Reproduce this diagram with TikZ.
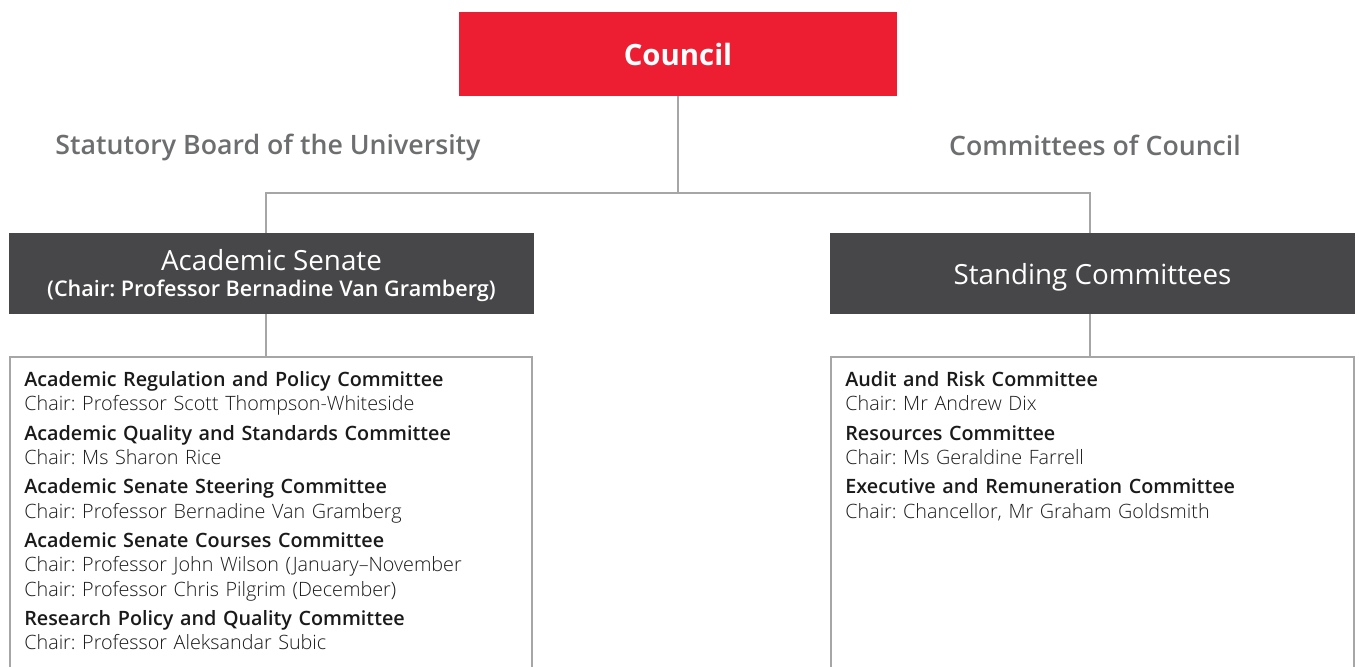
\documentclass[tikz,border=0pt]{standalone}
\usepackage{fontspec}
\setmainfont{Open Sans}
\setsansfont{Open Sans}
\frenchspacing
\IfFontExistsTF{Open Sans Light}{\newfontfamily\chairfont{Open Sans Light}}{\newcommand{\chairfont}{\normalfont}}
\IfFontExistsTF{Open Sans SemiBold}{\newfontfamily\headfont{Open Sans SemiBold}}{%
  \IfFontExistsTF{Open Sans Semibold}{\newfontfamily\headfont{Open Sans Semibold}}{\newcommand{\headfont}{\bfseries}}}
\usetikzlibrary{positioning, calc}
\definecolor{cred}{HTML}{ED1E31}
\definecolor{cdark}{HTML}{474648}
\definecolor{cgrey}{HTML}{6D6E70}
\definecolor{cline}{HTML}{A6A6A6}
\definecolor{ctext}{HTML}{1A1A1A}
\tikzset{
  every picture/.style={font=\sffamily},
  topbox/.style={fill=cred, text=white, minimum width=8.76cm, minimum height=1.68cm, inner sep=0pt, font=\bfseries\fontsize{16.7}{20}\selectfont},
  unitbox/.style={fill=cdark, text=white, minimum width=10.5cm, minimum height=1.62cm, inner sep=0pt, align=center, font=\fontsize{15.8}{17}\selectfont},
  listbox/.style={draw=cline, line width=1.1pt, minimum width=#1, minimum height=7cm, inner sep=0pt, anchor=north},
  listtext/.style={anchor=north west, inner sep=0pt, align=left, text width=9.8cm, text=ctext, font=\fontsize{11.25}{13.8}\selectfont},
  link/.style={draw=cline, line width=1.1pt},
  side/.style={text=cgrey, font=\headfont\fontsize{15.2}{18}\selectfont},
}
\newcommand{\comm}[2]{{\headfont #1}\\{\chairfont #2}}
\newcommand{\lowered}[1]{\raisebox{-2.4pt}[\height][\depth]{#1}}

\begin{document}
\begin{tikzpicture}[x=0.02cm, y=-0.02cm]
  \path[use as bounding box] (0,0) rectangle (1359,666);
  \clip (0,0) rectangle (1359,666);
  % top level
  \node[topbox] (council) at (678,54) {Council};
  \node[side] (statutory) at (268,147) {Statutory Board of the University};
  \node[side] (ofcouncil) at (1095,145) {Committees of Council};
  % second level
  \node[unitbox] (senate) at (271.5,273.5) {\lowered{\begin{tabular}{@{}c@{}}Academic Senate\\[-2pt]{\headfont\fontsize{12.3}{14}\selectfont (Chair: Professor Bernadine Van Gramberg)}\end{tabular}}};
  \node[unitbox] (standing) at (1092.5,273.5) {\lowered{Standing Committees}};
  \coordinate (split) at (678,193);
  \draw[link] (council) -- (split);
  \draw[link] ([xshift=-0.11cm]senate.north) |- (split) -| ([xshift=-0.05cm]standing.north);
  % committee lists
  \node[listbox=10.44cm] (senatelist) at (271,356) {};
  \node[listbox=10.46cm] (standinglist) at (1092.5,356) {};
  \draw[link] ([xshift=-0.11cm]senate.south) -- ([xshift=-0.11cm]senate.south |- senatelist.north);
  \draw[link] ([xshift=-0.05cm]standing.south) -- ([xshift=-0.05cm]standing.south |- standinglist.north);
  \node[listtext] (senateitems) at (24,371) {
    \comm{Academic Regulation and Policy Committee}{Chair: Professor Scott Thompson-Whiteside}\\[3pt]
    \comm{Academic Quality and Standards Committee}{Chair: Ms Sharon Rice}\\[3pt]
    \comm{Academic Senate Steering Committee}{Chair: Professor Bernadine Van Gramberg}\\[3pt]
    \comm{Academic Senate Courses Committee}{Chair: Professor John Wilson (January–November}\\
    {\chairfont Chair: Professor Chris Pilgrim (December)}\\[3pt]
    \comm{Research Policy and Quality Committee}{Chair: Professor Aleksandar Subic}};
  \node[listtext] (standingitems) at (845,371) {
    \comm{Audit and Risk Committee}{Chair: Mr Andrew Dix}\\[3pt]
    \comm{Resources Committee}{Chair: Ms Geraldine Farrell}\\[3pt]
    \comm{Executive and Remuneration Committee}{Chair: Chancellor, Mr Graham Goldsmith}};
\end{tikzpicture}
\end{document}
